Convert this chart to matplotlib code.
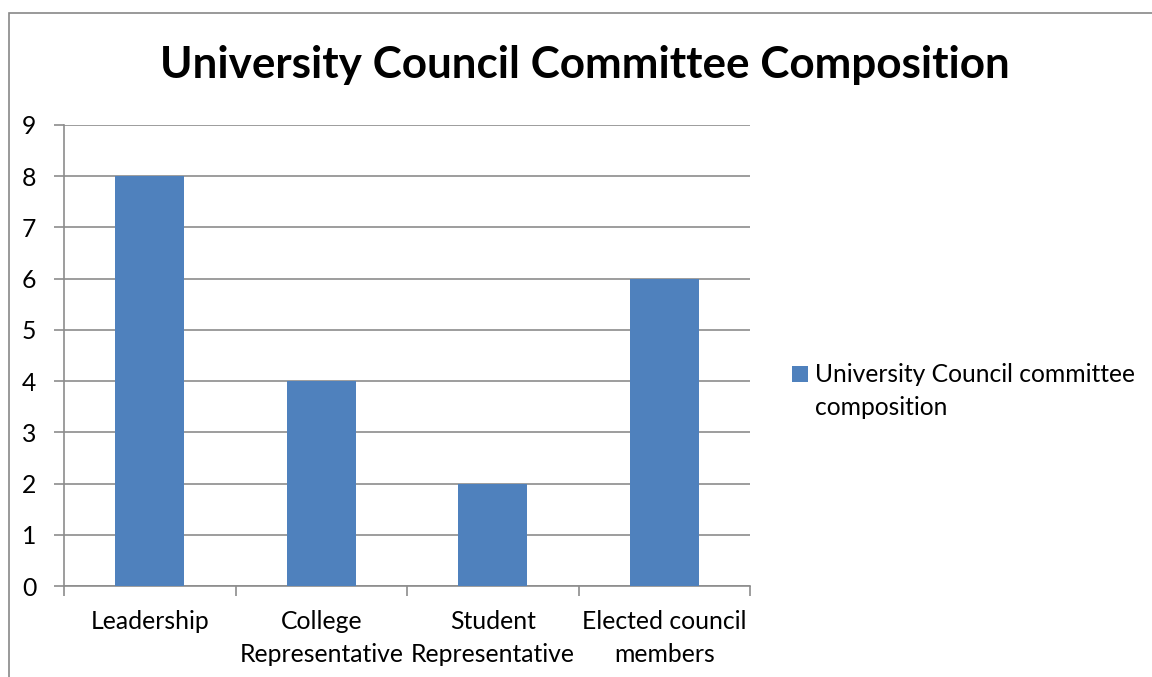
import numpy as np
import matplotlib.pyplot as plt
from matplotlib.patches import Patch, Rectangle

categories = ['Leadership', 'College\nRepresentative', 'Student\nRepresentative', 'Elected council\nmembers']
values = [8, 4, 2, 6]
series_name = 'University Council committee composition'
title = 'University Council Committee Composition'

plt.rcParams['font.family'] = ['Lato', 'DejaVu Sans']

fig = plt.figure(figsize=(11.52, 6.77), dpi=100)
# outer chart frame (partially cropped in the original)
fig.patches.append(Rectangle((9 / 1152, -0.05), 1.2, 1 - 13 / 677 + 0.05,
                             transform=fig.transFigure, fill=False,
                             edgecolor='#888888', linewidth=1.2))

ax = fig.add_axes([64 / 1152, 91 / 677, 686 / 1152, 461 / 677])
x = np.arange(len(categories))
bars = ax.bar(x, values, width=0.4, color='#4F81BD', zorder=3)

ax.set_xlim(-0.5, len(categories) - 0.5)
ax.set_ylim(0, 9)
ax.set_yticks(range(10))
ax.yaxis.grid(True, color='#8c8c8c', linewidth=1.2, zorder=0)

ax.set_xticks(np.arange(-0.5, len(categories)))
ax.set_xticklabels([])
ax.set_xticks(x, minor=True)
ax.set_xticklabels(categories, minor=True, fontsize=17.8, linespacing=1.52)
ax.tick_params(axis='x', which='minor', length=0, pad=17.5)
ax.tick_params(axis='x', which='major', length=7, color='#8c8c8c', width=1.2)
ax.tick_params(axis='y', length=7, color='#8c8c8c', width=1.2, labelsize=17.8, pad=13)

for s in ['top', 'right']:
    ax.spines[s].set_visible(False)
for s in ['left', 'bottom']:
    ax.spines[s].set_color('#8c8c8c')
    ax.spines[s].set_linewidth(1.2)

fig.text(585 / 1152, 1 - 65 / 677, title, ha='center', va='center',
         fontsize=31.7, fontweight='bold')

words = series_name.rsplit(' ', 1)
handles = [Patch(facecolor='#4F81BD'), Patch(facecolor='none', edgecolor='none')]
fig.legend(handles, [words[0], words[1]], loc='upper left',
           bbox_to_anchor=(780 / 1152, 1 - 351 / 677), frameon=False,
           fontsize=17.7, handlelength=0.62, handleheight=0.62,
           handletextpad=0.32, labelspacing=0.4, borderpad=0)

fig.savefig('out.png', dpi=100, facecolor='white')
